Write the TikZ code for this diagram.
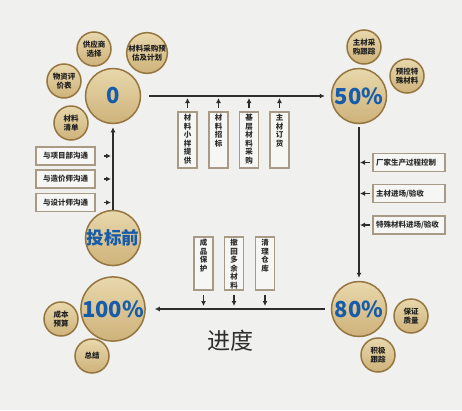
\documentclass[tikz,border=0pt]{standalone}
\usepackage{fontspec}
\setmainfont{Noto Sans CJK SC}
\usetikzlibrary{calc,arrows.meta}

\definecolor{bg}{RGB}{240,240,238}
\definecolor{goldhi}{RGB}{232,216,172}
\definecolor{goldmid}{RGB}{196,164,102}
\definecolor{goldlo}{RGB}{206,178,122}
\definecolor{goldrim}{RGB}{150,118,64}
\definecolor{numblue}{RGB}{22,92,170}
\definecolor{boxrim}{RGB}{168,155,134}
\definecolor{boxfill}{RGB}{246,246,244}
\definecolor{ink}{RGB}{45,45,45}

\newcommand{\vtxt}[2]{\parbox[c][#1][t]{9pt}{\centering #2}}

\begin{document}
\begin{tikzpicture}[x=1pt,y=-1pt,
    ball/.style={circle,draw=goldrim,line width=1.5pt,top color=goldhi,
      middle color=goldmid,bottom color=goldlo,inner sep=0pt},
    bigball/.style={ball,minimum size=55pt,text=numblue,
      font=\fontsize{22}{22}\selectfont\bfseries},
    smallball/.style={ball,minimum size=34pt,align=center,text=ink!70!black,
      font=\fontsize{7.5}{9}\selectfont\bfseries},
    hbox/.style={draw=boxrim,fill=boxfill,line width=1.5pt,minimum height=18pt,
      inner sep=1pt,text=ink,font=\fontsize{7.5}{9}\selectfont\bfseries},
    vbox/.style={draw=boxrim,fill=boxfill,line width=1.5pt,minimum width=19pt,
      inner sep=0pt,text=ink,font=\fontsize{7.5}{8.6}\selectfont\bfseries},
    flow/.style={draw=ink,line width=1.2pt,-{Latex[length=5pt,width=5pt]}}]
  \useasboundingbox[fill=bg] (0,0) rectangle (462,410);

  % stages
  \node[bigball] (c0) at (113,96) {0};
  \node[bigball] (c50) at (359,96) {50\%};
  \node[bigball] (c80) at (359,309) {80\%};
  \node[bigball] (c100) at (113,309) {100\%};
  \node[bigball,font=\fontsize{17.5}{17.5}\selectfont\bfseries] (cpre) at (113,238) {投标前};

  % satellites
  \node[smallball] (s1) at (94,49) {供应商\\选择};
  \node[smallball] (s2) at (147,53) {材料采购预\\估及计划};
  \node[smallball] (s3) at (64,81) {物资评\\价表};
  \node[smallball] (s4) at (71,123) {材料\\清单};
  \node[smallball] (s5) at (364,47) {主材采\\购跟踪};
  \node[smallball] (s6) at (407,76) {预控特\\殊材料};
  \node[smallball] (s7) at (411,316) {保证\\质量};
  \node[smallball] (s8) at (378,355) {积极\\跟踪};
  \node[smallball] (s9) at (61,319) {成本\\预算};
  \node[smallball] (s10) at (92,356) {总结};

  % main flow
  \draw[flow,shorten <=8pt,shorten >=6pt] (c0.east) -- (c50.west);
  \draw[flow,shorten <=3pt,shorten >=3pt] (c50.south) -- (c80.north);
  \draw[flow,shorten <=6pt,shorten >=9pt] (c80.west) -- (c100.east);
  \draw[flow,shorten >=3pt] (cpre.north) -- (c0.south);

  % left boxes
  \node[hbox,minimum width=59pt] (l1) at (65.5,156) {与项目部沟通};
  \node[hbox,minimum width=59pt] (l2) at (65.5,179) {与造价师沟通};
  \node[hbox,minimum width=59pt] (l3) at (65.5,202.5) {与设计师沟通};
  \foreach \b in {l1,l2,l3}
    \draw[flow,shorten <=8pt,shorten >=2pt] (\b.east) -- (\b -| cpre);

  % top boxes
  \node[vbox,minimum height=56pt] (t1) at (187.5,140) {\vtxt{52pt}{材\\料\\小\\样\\提\\供}};
  \node[vbox,minimum height=56pt] (t2) at (218.5,140) {\vtxt{52pt}{材\\料\\招\\标}};
  \node[vbox,minimum height=56pt] (t3) at (249,140) {\vtxt{52pt}{基\\层\\材\\料\\采\\购}};
  \node[vbox,minimum height=56pt] (t4) at (279.5,140) {\vtxt{52pt}{主\\材\\订\\货}};
  \foreach \b in {t1,t2,t3,t4}
    \draw[flow,shorten <=3pt,shorten >=2pt] (\b.north) -- (\b |- c0);

  % right boxes
  \node[hbox,minimum width=72pt,text width=66pt,align=left] (r1) at (409,162.5) {厂家生产过程控制};
  \node[hbox,minimum width=72pt,text width=66pt,align=left] (r2) at (409,193.5) {主材进场/验收};
  \node[hbox,minimum width=72pt,text width=66pt,align=left] (r3) at (409,225) {特殊材料进场/验收};
  \foreach \b in {r1,r2,r3}
    \draw[flow,shorten <=2pt,shorten >=1pt] (\b.west) -- (\b -| c50);

  % bottom boxes
  \node[vbox,minimum height=53pt] (b1) at (203.5,263.5) {\vtxt{49pt}{成\\品\\保\\护}};
  \node[vbox,minimum height=53pt] (b2) at (234,263.5) {\vtxt{49pt}{撤\\回\\多\\余\\材\\料}};
  \node[vbox,minimum height=53pt] (b3) at (265,263.5) {\vtxt{49pt}{清\\理\\仓\\库}};
  \foreach \b in {b1,b2,b3}
    \draw[flow,shorten <=4pt,shorten >=3pt] (\b.south) -- (\b |- c80);

  \node[text=ink,font=\fontsize{23}{23}\selectfont] (title) at (230,341) {进度};
\end{tikzpicture}
\end{document}
